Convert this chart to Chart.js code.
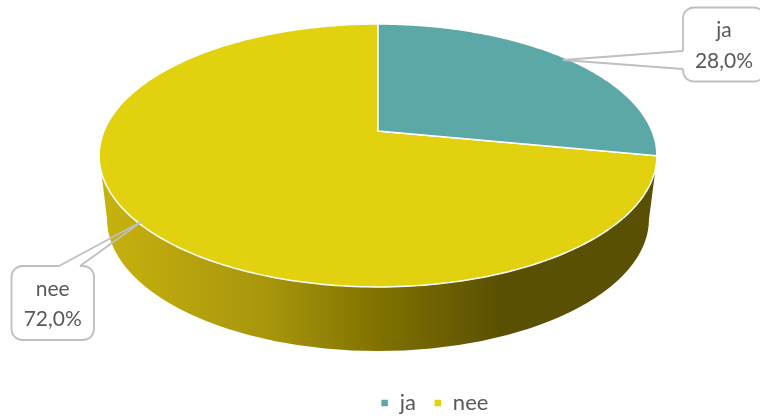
<!DOCTYPE html>
<html>
<head>
<meta charset="utf-8">
<style>
  html, body { margin:0; padding:0; background:#fff; }
  canvas { display:block; }
</style>
<script src="https://cdn.jsdelivr.net/npm/chart.js@4/dist/chart.umd.min.js"></script>
</head>
<body>
<canvas id="pie" width="760" height="416"></canvas>
<script>
const labels = ['ja', 'nee'];
const values = [28, 72];
const colors = ['#5ba8a6', '#e2d10e'];

const FONT = 'Lato, "Open Sans", sans-serif';
const TXT  = '#595959';

// perspective disc: rim point for clockwise angle th from the top
const APEX = { x:378, y:131 };
const rim = th => {
  const u = Math.sin(th), v = -Math.cos(th);
  const d = 1 - 0.1863 * v;
  return { x: APEX.x + 274 * u / d, y: APEX.y + 126.9 * v / d };
};

function drawWall(ctx) {
  const g = ctx.createLinearGradient(100, 0, 656, 0);
  g.addColorStop(0,    '#c6b30f');
  g.addColorStop(0.12, '#bba60c');
  g.addColorStop(0.30, '#a8960c');
  g.addColorStop(0.50, '#807200');
  g.addColorStop(0.72, '#5a5003');
  g.addColorStop(1,    '#5a5003');
  ctx.beginPath();
  ctx.moveTo(655, 173);
  // top rim, near side, right to left
  ctx.ellipse(378, 155.5, 279, 131.5, 0, Math.asin(17.5 / 131.5), Math.PI - Math.asin(17.5 / 131.5));
  // bottom rim, left to right
  ctx.ellipse(378, 219, 271, 132, 0, Math.PI, 0, true);
  ctx.closePath();
  ctx.fillStyle = g;
  ctx.fill();
}

function drawSlice(ctx, arc) {
  const a0 = arc.startAngle + Math.PI / 2;
  const a1 = arc.endAngle + Math.PI / 2;
  const steps = 240;
  ctx.beginPath();
  ctx.moveTo(APEX.x, APEX.y);
  for (let i = 0; i <= steps; i++) {
    const p = rim(a0 + (a1 - a0) * i / steps);
    ctx.lineTo(p.x, p.y);
  }
  ctx.closePath();
  ctx.fillStyle = arc.options.backgroundColor;
  ctx.fill();
  ctx.strokeStyle = arc.options.borderColor;
  ctx.lineWidth = arc.options.borderWidth;
  ctx.lineJoin = 'miter';
  ctx.stroke();
}

// rounded box with a wedge pointing at the slice
function drawCallout(ctx, box, tip, base, lines) {
  const r = 11;
  ctx.beginPath();
  ctx.roundRect(box.x, box.y, box.w, box.h, r);
  ctx.fillStyle = '#fff';
  ctx.fill();
  ctx.strokeStyle = '#bfbfbf';
  ctx.lineWidth = 1.8;
  ctx.stroke();

  // hide box edge where the wedge joins, then draw the wedge
  ctx.beginPath();
  ctx.moveTo(base[0][0], base[0][1]);
  ctx.lineTo(base[1][0], base[1][1]);
  ctx.strokeStyle = '#fff';
  ctx.lineWidth = 3;
  ctx.stroke();

  ctx.beginPath();
  ctx.moveTo(base[0][0], base[0][1]);
  ctx.lineTo(tip[0], tip[1]);
  ctx.lineTo(base[1][0], base[1][1]);
  ctx.strokeStyle = '#bfbfbf';
  ctx.lineWidth = 1.8;
  ctx.stroke();

  ctx.fillStyle = TXT;
  ctx.font = '21px ' + FONT;
  ctx.textAlign = 'center';
  ctx.textBaseline = 'middle';
  const cx = box.x + box.w / 2;
  ctx.fillText(lines[0], cx, box.y + 23);
  ctx.fillText(lines[1], cx, box.y + 53.5);
}

const pctText = i => {
  const total = values.reduce((a, b) => a + b, 0);
  return (values[i] / total * 100).toFixed(1).replace('.', ',') + '%';
};

const pie3d = {
  id:'pie3d',
  beforeDatasetsDraw(chart) {
    const ctx = chart.ctx;
    const arcs = chart.getDatasetMeta(0).data;
    ctx.save();
    drawWall(ctx);
    arcs.slice().reverse().forEach(a => drawSlice(ctx, a));
    drawCallout(ctx, {x:683, y:7.5, w:82, h:74}, [563, 60], [[683, 51], [683, 69]], [labels[0], pctText(0)]);
    drawCallout(ctx, {x:11.5, y:266, w:82.5, h:74}, [142.5, 221], [[59, 266], [80, 266]], [labels[1], pctText(1)]);
    ctx.restore();
    return false;
  }
};

new Chart(document.getElementById('pie'), {
  type:'pie',
  data:{
    labels,
    datasets:[{ data:values, backgroundColor:colors, borderColor:'#fff', borderWidth:1.5 }]
  },
  options:{
    responsive:false,
    animation:false,
    layout:{ padding:{ left:109, bottom:-8 } },
    plugins:{
      tooltip:{ enabled:false },
      legend:{
        position:'bottom',
        labels:{ boxWidth:8, boxHeight:8, padding:18, color:TXT, font:{ family:FONT, size:22 } }
      }
    }
  },
  plugins:[pie3d]
});
</script>
</body>
</html>
